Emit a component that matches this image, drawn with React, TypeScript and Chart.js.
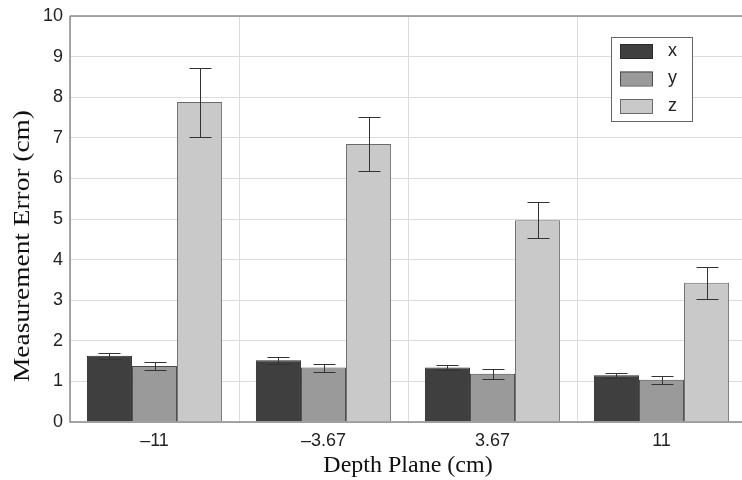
import React, { useEffect, useRef } from "react";
import { Chart, registerables } from "chart.js";

Chart.register(...registerables);

const categories = ["–11", "–3.67", "3.67", "11"];
const seriesNames = ["x", "y", "z"];
const xValues = [1.63, 1.52, 1.34, 1.15];
const xErrors = [0.08, 0.08, 0.07, 0.06];
const yValues = [1.38, 1.34, 1.19, 1.04];
const yErrors = [0.11, 0.1, 0.12, 0.1];
const zValues = [7.88, 6.85, 4.97, 3.43];
const zErrors = [0.85, 0.67, 0.45, 0.39];
const yTicks = [0, 1, 2, 3, 4, 5, 6, 7, 8, 9, 10];
const yTitle = "Measurement Error (cm)";
const xTitle = "Depth Plane (cm)";

const fills = ["#3f3f3f", "#9a9a9a", "#c9c9c9"];
const borders = ["#2a2a2a", "#4a4a4a", "#6a6a6a"];

const errorBarPlugin = {
  id: "errorBars",
  afterDatasetsDraw(chart: any) {
    const ctx = chart.ctx;
    const yScale = chart.scales.y;
    const errs = [xErrors, yErrors, zErrors];
    ctx.save();
    ctx.strokeStyle = "#333";
    ctx.lineWidth = 1;
    chart.data.datasets.forEach((ds: any, i: number) => {
      const meta = chart.getDatasetMeta(i);
      meta.data.forEach((bar: any, j: number) => {
        const v = ds.data[j];
        const e = errs[i][j];
        const x = Math.round(bar.x) + 0.5;
        const yt = Math.round(yScale.getPixelForValue(v + e)) + 0.5;
        const yb = Math.round(yScale.getPixelForValue(v - e)) + 0.5;
        const hw = 11;
        ctx.beginPath();
        ctx.moveTo(x, yt);
        ctx.lineTo(x, yb);
        ctx.moveTo(x - hw, yt);
        ctx.lineTo(x + hw, yt);
        ctx.moveTo(x - hw, yb);
        ctx.lineTo(x + hw, yb);
        ctx.stroke();
      });
    });
    ctx.restore();
  },
};

const framePlugin = {
  id: "frame",
  afterDatasetsDraw(chart: any) {
    const { ctx, chartArea } = chart;
    ctx.save();
    ctx.strokeStyle = "#8a8a8a";
    ctx.lineWidth = 1.5;
    ctx.beginPath();
    ctx.moveTo(chartArea.left, chartArea.top);
    ctx.lineTo(chartArea.right, chartArea.top);
    ctx.moveTo(chartArea.left, chartArea.top);
    ctx.lineTo(chartArea.left, chartArea.bottom);
    ctx.lineTo(chartArea.right, chartArea.bottom);
    ctx.stroke();
    ctx.restore();
  },
};

const yTitlePlugin = {
  id: "yTitle",
  afterDraw(chart: any) {
    const ctx = chart.ctx;
    ctx.save();
    ctx.translate(23, 246);
    ctx.rotate(-Math.PI / 2);
    ctx.scale(1.14, 1);
    ctx.font = "24px 'Liberation Serif', 'Times New Roman', serif";
    ctx.fillStyle = "#111";
    ctx.textAlign = "center";
    ctx.textBaseline = "middle";
    ctx.fillText(yTitle, 0, 0);
    ctx.restore();
  },
};

const legendPlugin = {
  id: "boxLegend",
  afterDraw(chart: any) {
    const ctx = chart.ctx;
    const bx = 611, by = 37, bw = 81, bh = 84;
    ctx.save();
    ctx.fillStyle = "#fff";
    ctx.fillRect(bx, by, bw, bh);
    ctx.strokeStyle = "#666";
    ctx.lineWidth = 1;
    ctx.strokeRect(bx + 0.5, by + 0.5, bw, bh);
    ctx.font = "18px 'Liberation Sans', Arial, sans-serif";
    ctx.textBaseline = "middle";
    seriesNames.forEach((name, i) => {
      const sy = by + 7 + i * 27.5;
      ctx.fillStyle = fills[i];
      ctx.fillRect(bx + 9, sy, 32, 14);
      ctx.strokeStyle = borders[i];
      ctx.strokeRect(bx + 9.5, sy + 0.5, 32, 14);
      ctx.fillStyle = "#222";
      ctx.fillText(name, bx + 57, sy + 7);
    });
    ctx.restore();
  },
};

export default function App() {
  const ref = useRef<HTMLCanvasElement | null>(null);
  useEffect(() => {
    if (!ref.current) return;
    const values = [xValues, yValues, zValues];
    const chart = new Chart(ref.current, {
      type: "bar",
      data: {
        labels: categories,
        datasets: seriesNames.map((n, i) => ({
          label: n,
          data: values[i],
          backgroundColor: fills[i],
          borderColor: borders[i],
          borderWidth: 1,
          categoryPercentage: 0.8,
          barPercentage: 1.0,
        })),
      },
      options: {
        animation: false,
        responsive: true,
        maintainAspectRatio: false,
        layout: { padding: { top: 6, right: 4, left: 0, bottom: 0 } },
        plugins: { legend: { display: false }, tooltip: { enabled: false } },
        scales: {
          x: {
            grid: { color: "#dcdcdc", drawTicks: false, offset: true },
            border: { display: false },
            ticks: {
              color: "#222",
              padding: 8,
              font: { family: "'Liberation Sans', Arial, sans-serif", size: 18 },
            },
            title: {
              display: true,
              text: xTitle,
              color: "#111",
              padding: { top: 1, bottom: 0 },
              font: { family: "'Liberation Serif', 'Times New Roman', serif", size: 24 },
            },
            afterFit(scale: any) {
              scale.height = 58;
            },
          },
          y: {
            min: 0,
            max: 10,
            afterBuildTicks(scale: any) {
              scale.ticks = yTicks.map((v) => ({ value: v }));
            },
            grid: { color: "#dcdcdc", drawTicks: false },
            border: { display: false },
            ticks: {
              color: "#222",
              padding: 7,
              font: { family: "'Liberation Sans', Arial, sans-serif", size: 18, lineHeight: 1 },
            },
            title: { display: false },
            afterFit(scale: any) {
              scale.width = 70;
            },
          },
        },
      },
      plugins: [framePlugin, errorBarPlugin, legendPlugin, yTitlePlugin],
    });
    return () => chart.destroy();
  }, []);
  return (
    <div
      style={{
        position: "fixed",
        left: 0,
        top: 0,
        width: 750,
        height: 480,
        background: "#fff",
      }}
    >
      <canvas ref={ref} />
    </div>
  );
}
